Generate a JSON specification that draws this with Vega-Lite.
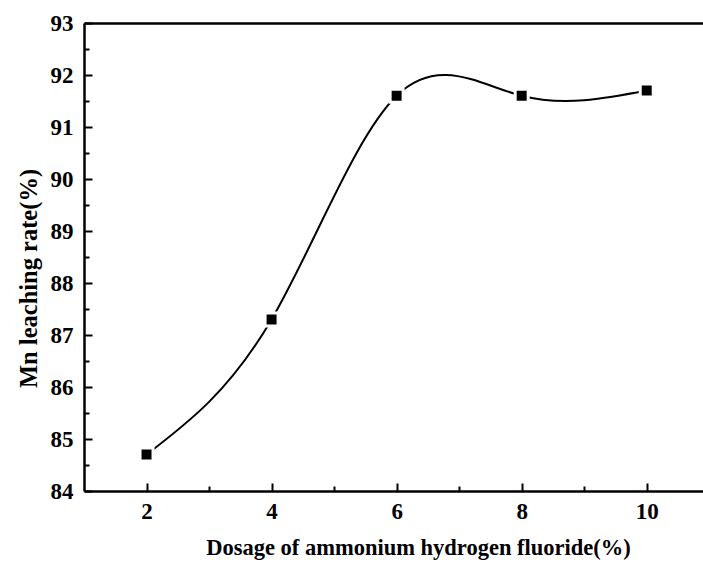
{
  "$schema": "https://vega.github.io/schema/vega-lite/v6.json",
  "width": 619,
  "height": 468,
  "autosize": "none",
  "padding": {"left": 84, "top": 23, "right": 0, "bottom": 76},
  "background": "white",
  "config": {
    "view": {"stroke": null},
    "font": "Liberation Serif"
  },
  "data": {
    "values": [
      {"dosage": 2, "rate": 84.7},
      {"dosage": 4, "rate": 87.3},
      {"dosage": 6, "rate": 91.6},
      {"dosage": 8, "rate": 91.6},
      {"dosage": 10, "rate": 91.7}
    ]
  },
  "layer": [
    {
      "mark": {"type": "line", "interpolate": "natural", "color": "black", "strokeWidth": 2},
      "encoding": {
        "x": {
          "field": "dosage", "type": "quantitative",
          "scale": {"domain": [1, 10.9], "nice": false, "zero": false},
          "axis": {
            "orient": "bottom",
            "title": "Dosage of ammonium hydrogen fluoride(%)",
            "values": [2, 4, 6, 8, 10],
            "tickSize": -8, "tickWidth": 2, "tickColor": "black",
            "domainColor": "black", "domainWidth": 2.5,
            "grid": false,
            "labelFont": "Liberation Serif", "labelFontWeight": "bold", "labelFontSize": 23, "labelColor": "black",
            "labelPadding": 17,
            "titleFont": "Liberation Serif", "titleFontWeight": "bold", "titleFontSize": 22.5, "titleColor": "black",
            "titlePadding": 13,
            "titleAnchor": "middle",
            "titleX": 334
          }
        },
        "y": {
          "field": "rate", "type": "quantitative",
          "scale": {"domain": [84, 93], "nice": false, "zero": false},
          "axis": {
            "orient": "left",
            "title": "Mn leaching rate(%)",
            "values": [84, 85, 86, 87, 88, 89, 90, 91, 92, 93],
            "tickSize": -8, "tickWidth": 2, "tickColor": "black",
            "domainColor": "black", "domainWidth": 2.5,
            "grid": false,
            "labelFont": "Liberation Serif", "labelFontWeight": "bold", "labelFontSize": 23, "labelColor": "black",
            "labelPadding": 19,
            "titleFont": "Liberation Serif", "titleFontWeight": "bold", "titleFontSize": 24.5, "titleColor": "black",
            "titlePadding": 9,
            "titleY": 255
          }
        }
      }
    },
    {
      "mark": {"type": "point", "shape": "square", "filled": true, "fill": "black", "stroke": "white", "strokeWidth": 3, "size": 169, "opacity": 1},
      "encoding": {
        "x": {
          "field": "dosage", "type": "quantitative",
          "axis": {
            "orient": "bottom", "title": null, "labels": false, "domain": false, "grid": false,
            "values": [3, 5, 7, 9], "tickSize": -5, "tickWidth": 2, "tickColor": "black"
          }
        },
        "y": {
          "field": "rate", "type": "quantitative",
          "axis": {
            "orient": "left", "title": null, "labels": false, "domain": false, "grid": false,
            "values": [84.5, 85.5, 86.5, 87.5, 88.5, 89.5, 90.5, 91.5, 92.5], "tickSize": -5, "tickWidth": 2, "tickColor": "black"
          }
        }
      }
    },
    {
      "mark": {"type": "point", "opacity": 0},
      "encoding": {
        "x": {
          "field": "dosage", "type": "quantitative",
          "axis": {"orient": "top", "title": null, "labels": false, "ticks": false, "grid": false, "domain": true, "domainColor": "black", "domainWidth": 2.5}
        },
        "y": {"field": "rate", "type": "quantitative", "axis": null}
      }
    }
  ],
  "resolve": {"axis": {"x": "independent", "y": "independent"}}
}
